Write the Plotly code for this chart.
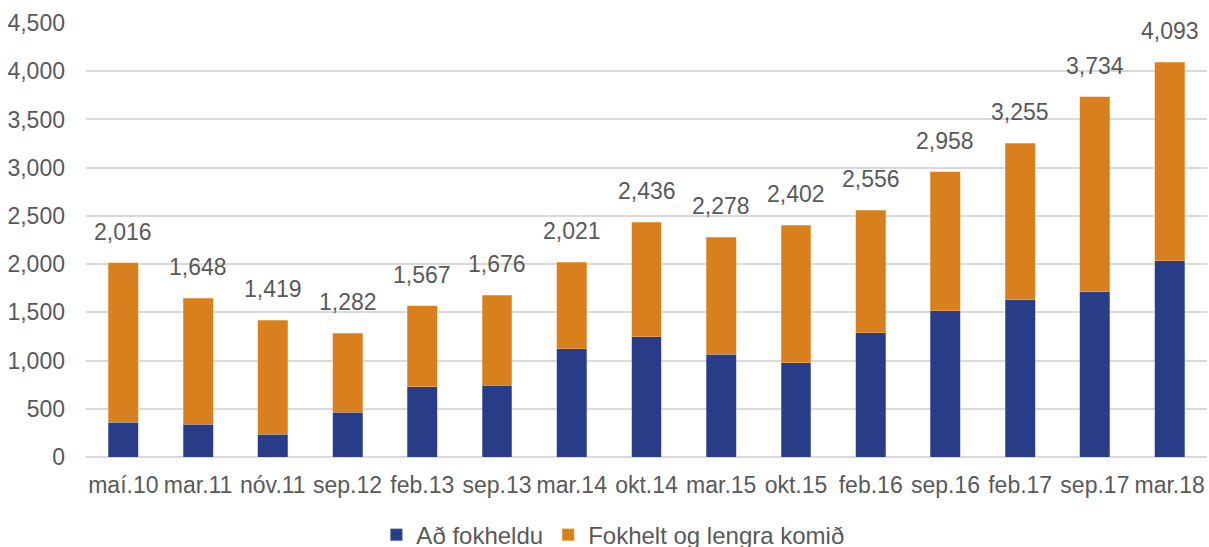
import plotly.graph_objects as go

categories = ["maí.10", "mar.11", "nóv.11", "sep.12", "feb.13", "sep.13", "mar.14", "okt.14",
              "mar.15", "okt.15", "feb.16", "sep.16", "feb.17", "sep.17", "mar.18"]
totals = [2016, 1648, 1419, 1282, 1567, 1676, 2021, 2436, 2278, 2402, 2556, 2958, 3255, 3734, 4093]
ad_fokheldu = [362, 338, 234, 466, 726, 744, 1122, 1246, 1066, 976, 1288, 1514, 1631, 1714, 2034]
fokhelt = [t - a for t, a in zip(totals, ad_fokheldu)]
total_labels = [f"{t:,}" for t in totals]

font_family = "Liberation Sans, Arial, sans-serif"
grey = "#595959"

fig = go.Figure()
fig.add_trace(go.Bar(x=categories, y=ad_fokheldu, name="Að fokheldu",
                     marker=dict(color="#283C87", line=dict(color="#9aa3c9", width=0.5))))
fig.add_trace(go.Bar(x=categories, y=fokhelt, name="Fokhelt og lengra komið",
                     marker=dict(color="#D8801D", line=dict(color="#f0c080", width=0.5))))

for c, t, lab in zip(categories, totals, total_labels):
    fig.add_annotation(x=c, y=t, text=lab, showarrow=False, yanchor="bottom", yshift=16,
                       font=dict(family=font_family, size=23, color=grey))

fig.update_layout(
    barmode="stack",
    bargap=0.6,
    width=1209, height=547,
    margin=dict(l=86, r=2, t=23, b=90, autoexpand=False),
    plot_bgcolor="white", paper_bgcolor="white",
    font=dict(family=font_family, size=23, color=grey),
    legend=dict(orientation="h", x=0.47, xanchor="center", yref="paper", y=-0.18,
                yanchor="middle", font=dict(family=font_family, size=24, color=grey),
                itemwidth=30, traceorder="normal", tracegroupgap=0),
    xaxis=dict(showgrid=False, tickfont=dict(family=font_family, size=23, color=grey),
               ticks="", showline=False, automargin=False, ticklabelstandoff=12),
    yaxis=dict(range=[0, 4500], dtick=500, tickformat=",", showgrid=True,
               gridcolor="#d9d9d9", gridwidth=1.5, zeroline=True, zerolinecolor="#d9d9d9",
               zerolinewidth=1.5, ticks="", ticklabelstandoff=20, automargin=False,
               tickfont=dict(family=font_family, size=23, color=grey)),
)

fig.write_html("out.html")
